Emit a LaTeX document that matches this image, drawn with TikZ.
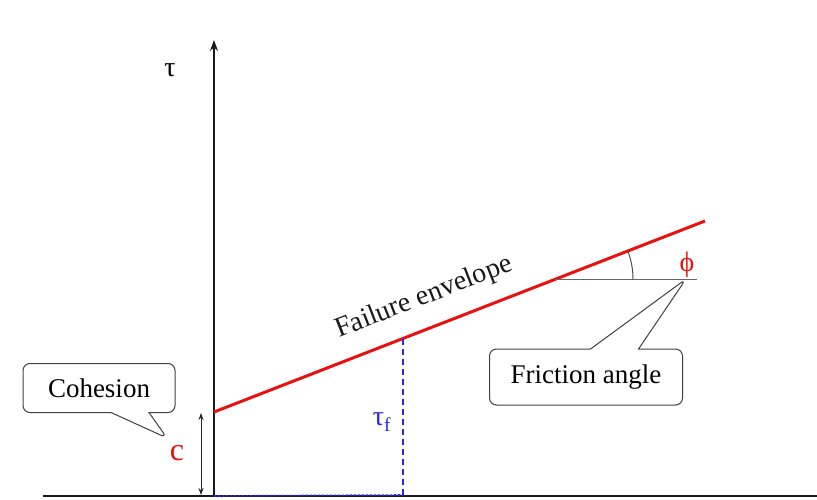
\documentclass[tikz,border=0pt]{standalone}
\usepackage{fontspec}
\setmainfont{Liberation Serif}
\usetikzlibrary{arrows.meta,shapes.callouts}
\definecolor{envred}{RGB}{232,16,16}
\definecolor{tfblue}{RGB}{40,40,225}
\begin{document}
\begin{tikzpicture}[x=1pt,y=-1pt,
     axis/.style={line width=2.6pt,black!90},
     envelope/.style={line width=3pt,envred},
     guide/.style={line width=1.6pt,tfblue,dash pattern=on 6pt off 4pt},
     balloon/.style={rectangle callout,draw=black!75,line width=1pt,
       rounded corners=7pt,font=\fontsize{27}{29}\selectfont},
     lab/.style={font=\fontsize{28}{30}\selectfont}]
    \useasboundingbox (0,0) rectangle (817,500);
    % axes
    \coordinate (O) at (214,496);
    \coordinate (ytop) at (214,40);
    \coordinate (xleft) at (43,496);
    \coordinate (xright) at (817,496);
    \draw[axis] (xleft) -- (xright);
    \draw[axis,-{Stealth[length=11pt,width=8pt]}] (O) -- (ytop);
    \node[lab] (tau) at (170,70) {τ};
    % failure envelope
    \coordinate (cpt) at (214,412);
    \coordinate (envend) at (705,221);
    \draw[envelope] (cpt) -- node[sloped,above=13pt,pos=0.45,lab,black!90]
      (envlab) {Failure envelope} (envend);
    % friction angle
    \coordinate (hstart) at (555,279);
    \coordinate (phitip) at (686,279);
    \coordinate (hend) at (697,279);
    \draw[black!60,line width=1pt] (hstart) -- (hend);
    \draw[black!70,line width=1pt] ([xshift=78pt]hstart)
      arc[start angle=0,end angle=21.4,radius=78pt];
    \node[lab,envred] (phi) at (687,265) {ϕ};
    \node[balloon,minimum width=193pt,minimum height=56pt,
      callout absolute pointer={(phitip)},callout pointer width=48pt]
      (friction) at (586,377) {Friction angle};
    % cohesion
    \coordinate (ctip) at (167,438);
    \node[balloon,minimum width=152pt,minimum height=49pt,
      callout absolute pointer={(ctip)},callout pointer width=38pt]
      (cohesion) at (99,388) {Cohesion};
    \node[font=\fontsize{32}{34}\selectfont,envred] (c) at (177,453) {c};
    \coordinate (cbot) at (201,495);
    \coordinate (ctop) at (201,413);
    \draw[black!85,line width=1pt,{Stealth[length=7pt,width=5pt]}-{Stealth[length=7pt,width=5pt]}]
      (cbot) -- (ctop);
    % shear strength
    \coordinate (tfbot) at (403,495);
    \coordinate (tftop) at (403,339);
    \draw[guide] (tfbot) -- (tftop);
    \draw[tfblue,line width=1.6pt,dash pattern=on 2.5pt off 1.5pt] (O) -- (tfbot);
    \node[lab,tfblue] (tauf) at (382,422) {τ\textsubscript{f}};
  \end{tikzpicture}
\end{document}
